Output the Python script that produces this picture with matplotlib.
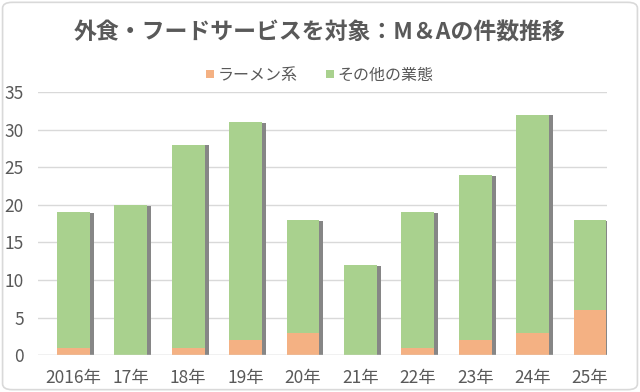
import matplotlib.pyplot as plt
from matplotlib.patches import FancyBboxPatch
import numpy as np

plt.rcParams['font.family'] = ['Noto Sans CJK JP', 'DejaVu Sans']

years = ['2016年', '17年', '18年', '19年', '20年', '21年', '22年', '23年', '24年', '25年']
ramen = [1, 0, 1, 2, 3, 0, 1, 2, 3, 6]
other = [18, 20, 27, 29, 15, 12, 18, 22, 29, 12]

text_color = '#595959'
fig = plt.figure(figsize=(6.4, 3.92), dpi=100)
ax = fig.add_axes([0.059, 0.094, 0.889, 0.671])

x = np.arange(len(years))
total = np.array(ramen) + np.array(other)
w = 0.57
# gray drop shadow behind each stack
ax.bar(x + 0.07, total - 0.1, width=w, color='#868686', zorder=2)
ax.bar(x, ramen, width=w, color='#F4B183', label='ラーメン系', zorder=3)
ax.bar(x, other, bottom=ramen, width=w, color='#A9D18E', label='その他の業態', zorder=3)

ax.set_ylim(0, 35)
ax.set_xlim(-0.62, len(years) - 0.71)
ax.set_yticks(range(0, 36, 5))
ax.set_xticks(x)
ax.set_xticklabels(years)
ax.tick_params(axis='both', length=0, labelsize=12.5, colors=text_color)
ax.tick_params(axis='y', pad=10)
ax.tick_params(axis='x', pad=10)
ax.grid(axis='y', color='#d9d9d9', linewidth=1, zorder=0)
for s in ax.spines.values():
    s.set_visible(False)
ax.axhline(0, color='#d9d9d9', linewidth=1, zorder=4)

fig.text(0.5, 0.915, '外食・フードサービスを対象：M＆Aの件数推移', ha='center', va='center',
         fontsize=16.5, fontweight='bold', color=text_color)
fig.legend(loc='center', bbox_to_anchor=(0.5, 0.808), ncol=2, frameon=False,
           fontsize=11.5, handlelength=0.45, handleheight=0.45, columnspacing=1.8,
           handletextpad=0.25, labelcolor=text_color)

border = FancyBboxPatch((0.004, 0.006), 0.992, 0.988, boxstyle='round,pad=0,rounding_size=0.015',
                        transform=fig.transFigure, fill=False, edgecolor='#d9d9d9', linewidth=1.2)
fig.patches.append(border)

fig.savefig('out.png', dpi=100)
